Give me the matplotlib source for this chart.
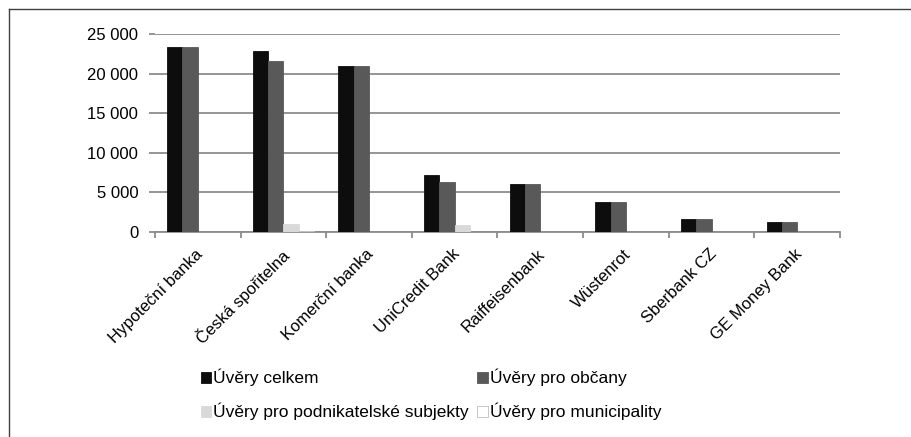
import matplotlib
matplotlib.use("Agg")
import matplotlib.pyplot as plt
import matplotlib.transforms as mtransforms
import numpy as np
from matplotlib.ticker import FuncFormatter, FixedLocator
from matplotlib.lines import Line2D

plt.rcParams['font.family'] = ['Liberation Sans', 'DejaVu Sans']

banks = ["Hypoteční banka", "Česká spořitelna", "Komerční banka", "UniCredit Bank",
         "Raiffeisenbank", "Wüstenrot", "Sberbank CZ", "GE Money Bank"]
uvery_celkem = [23300, 22800, 21000, 7200, 6050, 3800, 1700, 1250]
uvery_obcane = [23300, 21600, 21000, 6250, 6050, 3800, 1650, 1250]
uvery_podnik = [0, 1050, 0, 880, 0, 0, 0, 0]
uvery_munic = [0, 170, 0, 0, 0, 0, 0, 0]

series = [
    ("Úvěry celkem", uvery_celkem, "#0d0d0d", "#0d0d0d"),
    ("Úvěry pro občany", uvery_obcane, "#595959", "#595959"),
    ("Úvěry pro podnikatelské subjekty", uvery_podnik, "#d9d9d9", "#d9d9d9"),
    ("Úvěry pro municipality", uvery_munic, "#ffffff", "#bfbfbf"),
]

FS = 12

fig = plt.figure(figsize=(9.12, 4.37), dpi=100)
ax = fig.add_axes([155 / 912, 1 - 232 / 437, 685 / 912, 198 / 437])

x = np.arange(len(banks))
w = 0.179
handles = []
for i, (name, vals, fc, ec) in enumerate(series):
    offs = (i - 1.5) * w
    bars = ax.bar(x + offs, vals, width=w, color=fc, edgecolor=ec, linewidth=0.6, zorder=3, label=name)
    handles.append(bars)

ax.set_xlim(-0.5, len(banks) - 0.5)
ax.set_ylim(0, 25000)
ax.set_yticks(np.arange(0, 25001, 5000))
ax.yaxis.set_major_formatter(FuncFormatter(lambda v, p: f"{int(v):,}".replace(",", " ")))
ax.grid(axis='y', color='#8c8c8c', linewidth=1.3, zorder=0)
ax.set_axisbelow(True)

for s in ['top', 'right', 'left']:
    ax.spines[s].set_visible(False)
ax.spines['bottom'].set_color('#8c8c8c')
ax.spines['bottom'].set_linewidth(1.3)

# category boundary ticks
ax.xaxis.set_major_locator(FixedLocator(np.arange(-0.5, len(banks), 1.0)))
ax.xaxis.set_major_formatter(FuncFormatter(lambda v, p: ""))
ax.tick_params(axis='x', which='major', length=4, color='#8c8c8c', width=1.3)
ax.xaxis.set_minor_locator(FixedLocator(x))
labels = ax.set_xticklabels(banks, minor=True, rotation=45, ha='right', rotation_mode='anchor', fontsize=FS)
ax.tick_params(axis='x', which='minor', length=0, pad=9)
shift = mtransforms.ScaledTranslation(-3 / 100, -2 / 100, fig.dpi_scale_trans)
for lab in ax.xaxis.get_minorticklabels():
    lab.set_transform(lab.get_transform() + shift)
ax.tick_params(axis='y', length=4, color='#8c8c8c', width=1.3, labelsize=FS, pad=8)

# legend laid out row by row (matplotlib fills columns first)
order = [0, 2, 1, 3]
leg = fig.legend(handles=[handles[k] for k in order], labels=[series[k][0] for k in order], ncol=2,
                 loc='upper left', bbox_to_anchor=(201 / 912, 1 - 369 / 437),
                 frameon=False, fontsize=12.5, handlelength=0.6, handleheight=0.6,
                 handletextpad=0.1, columnspacing=0.5, labelspacing=0.95,
                 borderaxespad=0, borderpad=0)

# outer frame
fig.add_artist(Line2D([9 / 912, 1.0], [1 - 9 / 437, 1 - 9 / 437], transform=fig.transFigure,
                      color='#404040', linewidth=1.0))
fig.add_artist(Line2D([9 / 912, 9 / 912], [0, 1 - 9 / 437], transform=fig.transFigure,
                      color='#404040', linewidth=1.0))

fig.savefig("out.png", dpi=100)
